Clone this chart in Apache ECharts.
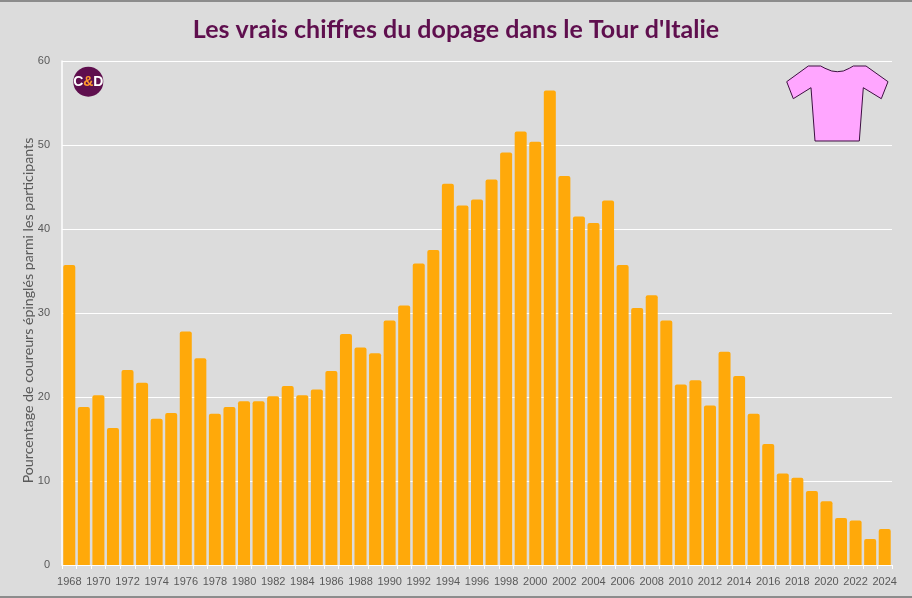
<!DOCTYPE html>
<html><head><meta charset="utf-8">
<style>html,body{margin:0;padding:0;background:#dcdcdc}#c{width:912px;height:598px}</style>
<script src="https://cdn.jsdelivr.net/npm/echarts@6/dist/echarts.min.js"></script>
</head><body><div id="c"></div>
<script>
const years=['1968','1969','1970','1971','1972','1973','1974','1975','1976','1977','1978','1979','1980','1981','1982','1983','1984','1985','1986','1987','1988','1989','1990','1991','1992','1993','1994','1995','1996','1997','1998','1999','2000','2001','2002','2003','2004','2005','2006','2007','2008','2009','2010','2011','2012','2013','2014','2015','2016','2017','2018','2019','2020','2021','2022','2023','2024'];
const rates=[35.7,18.8,20.2,16.3,23.2,21.7,17.4,18.1,27.8,24.6,18,18.8,19.5,19.5,20.1,21.3,20.2,20.9,23.1,27.5,25.9,25.2,29.1,30.9,35.9,37.5,45.4,42.8,43.5,45.9,49.1,51.6,50.4,56.5,46.3,41.5,40.7,43.4,35.7,30.6,32.1,29.1,21.5,22,19,25.4,22.5,18,14.4,10.9,10.4,8.8,7.6,5.6,5.3,3.1,4.3];
const titleText="Les vrais chiffres du dopage dans le Tour d'Italie";
const yName='Pourcentage de coureurs épinglés parmi les participants';
const shirt=[[786.7,81.7],[808.3,66],[820.7,66],[825,68.3],[831.7,71],[837.3,71.7],[843.3,71],[849.3,68.3],[853.3,66],[866,66],[888,81.7],[881.3,98.7],[863.3,87.7],[859.3,141],[815,141],[811,87.7],[793.3,98.7]];
const chart=echarts.init(document.getElementById('c'),null,{renderer:'canvas'});
chart.setOption({
 animation:false,
 backgroundColor:'#dcdcdc',
 title:{text:titleText,left:451,top:12,textAlign:'center',textStyle:{color:'#5f0f4e',fontSize:25,fontWeight:'bold',fontFamily:'Lato,sans-serif'}},
 grid:{left:62,right:20,top:61,bottom:33,containLabel:false},
 xAxis:{type:'category',data:years,boundaryGap:true,
  axisLine:{show:true,lineStyle:{color:'#ffffff',width:1}},
  axisTick:{show:true,length:4,interval:0,lineStyle:{color:'#ffffff'}},
  splitLine:{show:false},
  axisLabel:{interval:1,color:'#595959',fontSize:11,margin:11,fontFamily:'"Liberation Sans",sans-serif',hideOverlap:false}},
 yAxis:{type:'value',min:0,max:60,interval:10,name:yName,nameLocation:'middle',nameGap:27,nameMoveOverlap:false,
  nameTextStyle:{color:'#595959',fontSize:14.2,fontFamily:'Lato,sans-serif',padding:[0,0,0,5]},
  axisLine:{show:true,lineStyle:{color:'#ffffff',width:1.5}},axisTick:{show:false},
  splitLine:{show:true,lineStyle:{color:'#ffffff',width:1}},
  axisLabel:{color:'#595959',fontSize:11,margin:12,fontFamily:'"Liberation Sans",sans-serif'}},
 series:[{type:'bar',data:rates,barWidth:12,itemStyle:{color:'#ffa90a',borderRadius:[2,2,0,0]}}],
 graphic:[
  {type:'rect',shape:{x:0,y:0,width:912,height:2},style:{fill:'#8c8c8c'},silent:true},
  {type:'rect',shape:{x:0,y:596,width:912,height:2},style:{fill:'#8c8c8c'},silent:true},
  {type:'circle',shape:{cx:88.3,cy:81.7,r:15},style:{fill:'#5f0f4e'},silent:true},
  {type:'text',x:88.3,y:81.7,style:{align:'center',verticalAlign:'middle',rich:{a:{fill:'#fff',fontSize:14,fontWeight:'bold',fontFamily:'"Liberation Sans",sans-serif'},b:{fill:'#ff9a2e',fontSize:14,fontWeight:'bold',fontFamily:'"Liberation Sans",sans-serif'}},text:'{a|C}{b|&}{a|D}'},silent:true},
  {type:'polygon',shape:{points:shirt},style:{fill:'#ffa6ff',stroke:'#3c1040',lineWidth:1},silent:true}
 ]
});
</script></body></html>
